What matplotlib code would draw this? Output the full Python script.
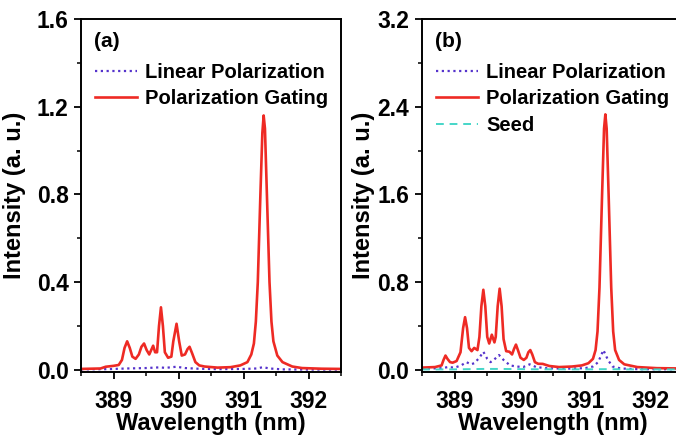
import numpy as np
import matplotlib.pyplot as plt

plt.rcParams['font.family'] = ['Liberation Sans', 'DejaVu Sans']
plt.rcParams['font.weight'] = 'bold'

# ---- panel (a) ----
wl_gate_a = [388.5, 388.8, 388.88, 389.0, 389.08, 389.13, 389.17, 389.21, 389.25, 389.29,
             389.34, 389.39, 389.43, 389.47, 389.51, 389.55, 389.58, 389.61, 389.64, 389.67,
             389.70, 389.73, 389.76, 389.79, 389.84, 389.89, 389.92, 389.97, 390.01, 390.05,
             390.10, 390.14, 390.17, 390.21, 390.26, 390.32, 390.4, 390.6, 390.8, 390.95,
             391.06, 391.12, 391.16, 391.19, 391.22, 391.26, 391.29, 391.31, 391.33, 391.36,
             391.40, 391.43, 391.46, 391.52, 391.6, 391.75, 391.9, 392.2, 392.5]
gate_a = [0.004, 0.006, 0.014, 0.018, 0.022, 0.045, 0.10, 0.13, 0.10, 0.06,
          0.05, 0.07, 0.105, 0.12, 0.09, 0.07, 0.09, 0.11, 0.08, 0.08,
          0.20, 0.285, 0.20, 0.08, 0.055, 0.06, 0.13, 0.21, 0.13, 0.065,
          0.07, 0.095, 0.105, 0.075, 0.035, 0.02, 0.015, 0.01, 0.012, 0.02,
          0.035, 0.07, 0.12, 0.22, 0.4, 0.8, 1.08, 1.16, 1.1, 0.8,
          0.4, 0.22, 0.13, 0.065, 0.035, 0.015, 0.008, 0.005, 0.004]

wl_lin_a = [388.5, 388.9, 389.2, 389.5, 389.7, 389.8, 389.97, 390.1, 390.3, 390.6,
            391.0, 391.2, 391.3, 391.4, 391.6, 392.0, 392.5]
lin_a = [0.002, 0.003, 0.006, 0.008, 0.011, 0.009, 0.014, 0.008, 0.005, 0.003,
         0.004, 0.006, 0.012, 0.006, 0.002, 0.001, 0.001]

# ---- panel (b) ----
wl_gate_b = [388.5, 388.7, 388.8, 388.83, 388.86, 388.89, 388.93, 388.97, 389.03, 389.09,
             389.13, 389.16, 389.19, 389.22, 389.26, 389.30, 389.35, 389.38, 389.41, 389.44,
             389.47, 389.50, 389.53, 389.57, 389.61, 389.63, 389.66, 389.69, 389.72, 389.75,
             389.79, 389.84, 389.88, 389.91, 389.94, 389.97, 390.01, 390.06, 390.1, 390.13,
             390.16, 390.19, 390.23, 390.28, 390.35, 390.45, 390.6, 390.8, 390.95, 391.05,
             391.12, 391.16, 391.19, 391.22, 391.26, 391.29, 391.31, 391.33, 391.36, 391.40,
             391.43, 391.46, 391.52, 391.6, 391.8, 392.1, 392.5]
gate_b = [0.02, 0.025, 0.04, 0.09, 0.13, 0.1, 0.07, 0.065, 0.08, 0.16,
          0.38, 0.48, 0.38, 0.2, 0.17, 0.2, 0.18, 0.3, 0.58, 0.73,
          0.58, 0.3, 0.24, 0.32, 0.25, 0.3, 0.58, 0.74, 0.58, 0.28,
          0.17, 0.165, 0.14, 0.19, 0.23, 0.18, 0.11, 0.09, 0.11, 0.16,
          0.18, 0.14, 0.07, 0.055, 0.054, 0.035, 0.025, 0.03, 0.04, 0.06,
          0.1, 0.18, 0.35, 0.75, 1.6, 2.2, 2.33, 2.2, 1.6, 0.75,
          0.35, 0.18, 0.09, 0.05, 0.025, 0.015, 0.012]

wl_lin_b = [388.5, 388.8, 388.9, 389.0, 389.1, 389.18, 389.25, 389.3, 389.38, 389.44,
            389.5, 389.55, 389.6, 389.68, 389.75, 389.85, 389.95, 390.05, 390.15, 390.25,
            390.4, 390.7, 391.0, 391.12, 391.2, 391.28, 391.35, 391.42, 391.55, 391.8,
            392.2, 392.5]
lin_b = [0.01, 0.015, 0.025, 0.02, 0.04, 0.07, 0.05, 0.06, 0.11, 0.165,
         0.1, 0.07, 0.09, 0.135, 0.09, 0.04, 0.03, 0.025, 0.05, 0.025,
         0.015, 0.01, 0.015, 0.03, 0.07, 0.18, 0.09, 0.03, 0.012, 0.006,
         0.005, 0.005]

wl_seed_b = [388.5, 389.0, 389.45, 389.7, 390.2, 391.0, 391.3, 391.6, 392.5]
seed_b = [0.003, 0.004, 0.008, 0.008, 0.005, 0.004, 0.006, 0.004, 0.003]

red = '#ee2a24'
purple = '#5533cc'
cyan = '#45d6c8'

fig = plt.figure(figsize=(6.76, 4.38), dpi=100)
ax1 = fig.add_axes([81/676, 1-372/438, 260/676, 353/438])
ax2 = fig.add_axes([422/676, 1-372/438, 261/676, 353/438])

ax1.plot(wl_lin_a, lin_a, color=purple, lw=1.6, ls=(0, (1, 1.6)), label='Linear Polarization')
ax1.plot(wl_gate_a, gate_a, color=red, lw=1.9, label='Polarization Gating')
ax2.plot(wl_lin_b, lin_b, color=purple, lw=1.6, ls=(0, (1, 1.6)), label='Linear Polarization')
ax2.plot(wl_gate_b, gate_b, color=red, lw=1.9, label='Polarization Gating')
ax2.plot(wl_seed_b, seed_b, color=cyan, lw=1.4, ls=(0, (4, 3)), label='Seed')

ax1.set_ylim(-0.01, 1.6)
ax1.set_yticks([0.0, 0.4, 0.8, 1.2, 1.6])
ax1.set_yticks([0.2, 0.6, 1.0, 1.4], minor=True)
ax2.set_ylim(-0.02, 3.2)
ax2.set_yticks([0.0, 0.8, 1.6, 2.4, 3.2])
ax2.set_yticks([0.4, 1.2, 2.0, 2.8], minor=True)

for ax, tag, lp in [(ax1, '(a)', 8), (ax2, '(b)', 2)]:
    ax.set_xlim(388.5, 392.5)
    ax.set_xticks([389, 390, 391, 392])
    ax.set_xticks([388.5, 389.5, 390.5, 391.5, 392.5], minor=True)
    ax.yaxis.set_major_formatter(plt.FormatStrFormatter('%.1f'))
    ax.tick_params(which='major', direction='out', length=5, width=1.3, labelsize=16.5)
    ax.tick_params(axis='x', pad=8)
    ax.tick_params(axis='y', pad=4)
    ax.tick_params(which='minor', direction='out', length=3, width=1.1)
    for s in ax.spines.values():
        s.set_linewidth(1.4)
    ax.set_xlabel('Wavelength (nm)', fontsize=17, fontweight='bold', labelpad=-1)
    ax.set_ylabel('Intensity (a. u.)', fontsize=17, fontweight='bold', labelpad=lp)
    ax.text(0.05, 0.935, tag, transform=ax.transAxes, fontsize=15, fontweight='bold',
            ha='left', va='center')
    ax.legend(loc='upper left', bbox_to_anchor=(0.054, 0.875), frameon=False,
              prop={'size': 14.5, 'weight': 'bold'}, handlelength=2.1,
              handletextpad=0.4, labelspacing=0.36, borderaxespad=0, borderpad=0)

fig.savefig('out.png', dpi=100)
